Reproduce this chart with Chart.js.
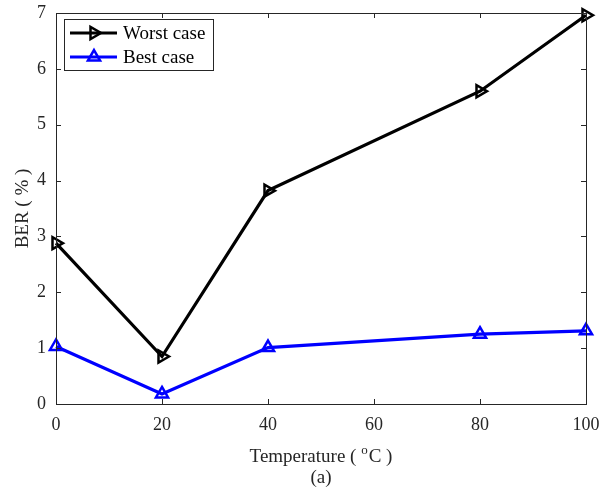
<!DOCTYPE html>
<html>
<head>
<meta charset="utf-8">
<script src="https://cdn.jsdelivr.net/npm/chart.js@4/dist/chart.umd.min.js"></script>
<style>
html,body{margin:0;padding:0;background:#fff;}
#wrap{width:611px;height:488px;position:relative;}
</style>
</head>
<body>
<div id="wrap"><canvas id="c" width="611" height="488"></canvas></div>
<script>
const temperatures = [0, 20, 40, 80, 100];
const worstCase = [2.88, 0.85, 3.82, 5.60, 6.96];
const bestCase = [1.03, 0.18, 1.01, 1.25, 1.31];
const xTickValues = [0, 20, 40, 60, 80, 100];
const yTickValues = [0, 1, 2, 3, 4, 5, 6, 7];
const seriesNames = ['Worst case', 'Best case'];
const xTitle = ['Temperature ( ', 'o', 'C )'];
const yTitle = 'BER ( % )';
const caption = '(a)';

const FONT = '"Liberation Serif", "Times New Roman", serif';
const AXIS_COLOR = '#262626';

const framePlugin = {
  id: 'frame',
  afterDraw(chart) {
    const ctx = chart.ctx;
    const a = chart.chartArea;
    const xs = chart.scales.x, ys = chart.scales.y;
    ctx.save();
    ctx.strokeStyle = AXIS_COLOR;
    ctx.lineWidth = 1;
    ctx.strokeRect(Math.round(a.left) + 0.5, Math.round(a.top) + 0.5,
                   Math.round(a.right - a.left), Math.round(a.bottom - a.top));
    const tl = 5;
    ctx.beginPath();
    xTickValues.forEach(v => {
      const px = Math.round(xs.getPixelForValue(v)) + 0.5;
      ctx.moveTo(px, a.bottom); ctx.lineTo(px, a.bottom - tl);
      ctx.moveTo(px, a.top); ctx.lineTo(px, a.top + tl);
    });
    yTickValues.forEach(v => {
      const py = Math.round(ys.getPixelForValue(v)) + 0.5;
      ctx.moveTo(a.left, py); ctx.lineTo(a.left + tl, py);
      ctx.moveTo(a.right, py); ctx.lineTo(a.right - tl, py);
    });
    ctx.stroke();

    // x title with superscript
    ctx.fillStyle = AXIS_COLOR;
    ctx.textBaseline = 'alphabetic';
    ctx.textAlign = 'left';
    const f1 = '19px ' + FONT, f2 = '13px ' + FONT;
    ctx.font = f1;
    const w1 = ctx.measureText(xTitle[0]).width;
    const w3 = ctx.measureText(xTitle[2]).width;
    ctx.font = f2;
    const w2 = ctx.measureText(xTitle[1]).width + 1;
    const total = w1 + w2 + w3;
    const cx = (a.left + a.right) / 2;
    const x0 = cx - total / 2;
    const base = 462;
    ctx.font = f1; ctx.fillText(xTitle[0], x0, base);
    ctx.font = f2; ctx.fillText(xTitle[1], x0 + w1, base - 8);
    ctx.font = f1; ctx.fillText(xTitle[2], x0 + w1 + w2, base);
    ctx.textAlign = 'center';
    ctx.fillText(caption, cx, 483);

    // y title
    ctx.save();
    ctx.translate(23, (a.top + a.bottom) / 2);
    ctx.rotate(-Math.PI / 2);
    ctx.textAlign = 'center';
    ctx.textBaseline = 'middle';
    ctx.font = '19px ' + FONT;
    ctx.fillText(yTitle, 0, 0);
    ctx.restore();

    // legend
    const lx = 64, ly = 19, lw = 149, lh = 51;
    ctx.fillStyle = '#fff';
    ctx.fillRect(lx, ly, lw, lh);
    ctx.strokeStyle = AXIS_COLOR;
    ctx.lineWidth = 1;
    ctx.strokeRect(lx + 0.5, ly + 0.5, lw, lh);
    chart.data.datasets.forEach((ds, i) => {
      const yy = 33 + i * 24;
      ctx.strokeStyle = ds.borderColor;
      ctx.lineWidth = 3;
      ctx.beginPath();
      ctx.moveTo(70, yy); ctx.lineTo(117, yy);
      ctx.stroke();
      ctx.fillStyle = 'rgba(0,0,0,0)';
      ctx.strokeStyle = ds.pointBorderColor;
      ctx.lineWidth = ds.pointBorderWidth;
      Chart.helpers.drawPoint(ctx, {
        pointStyle: ds.pointStyle, rotation: ds.pointRotation,
        radius: ds.pointRadius, borderWidth: ds.pointBorderWidth
      }, 94, yy);
      ctx.fillStyle = '#000';
      ctx.font = '19px ' + FONT;
      ctx.textAlign = 'left';
      ctx.textBaseline = 'middle';
      ctx.fillText(seriesNames[i], 123, yy + 1);
    });
    ctx.restore();
  }
};

const chart = new Chart(document.getElementById('c'), {
  type: 'line',
  data: {
    datasets: [
      {
        label: seriesNames[0],
        data: temperatures.map((t, i) => ({x: t, y: worstCase[i]})),
        borderColor: '#000000',
        backgroundColor: 'rgba(0,0,0,0)',
        pointBackgroundColor: 'rgba(0,0,0,0)',
        pointBorderColor: '#000000',
        borderWidth: 3.2,
        pointStyle: 'triangle',
        pointRotation: 90,
        pointRadius: 7,
        pointBorderWidth: 2.5,
        tension: 0,
        clip: false
      },
      {
        label: seriesNames[1],
        data: temperatures.map((t, i) => ({x: t, y: bestCase[i]})),
        borderColor: '#0000ff',
        backgroundColor: 'rgba(0,0,0,0)',
        pointBackgroundColor: 'rgba(0,0,0,0)',
        pointBorderColor: '#0000ff',
        borderWidth: 3.2,
        pointStyle: 'triangle',
        pointRotation: 0,
        pointRadius: 7,
        pointBorderWidth: 2.5,
        tension: 0,
        clip: false
      }
    ]
  },
  options: {
    responsive: false,
    animation: false,
    events: [],
    layout: {padding: {left: 0, top: 13, right: 25, bottom: 0}},
    plugins: {legend: {display: false}, tooltip: {enabled: false}, title: {display: false}},
    scales: {
      x: {
        type: 'linear', min: 0, max: 100,
        afterBuildTicks: s => { s.ticks = xTickValues.map(v => ({value: v})); },
        afterFit: s => { s.height = 84; s.paddingLeft = 0; s.paddingRight = 0; },
        grid: {display: false, drawTicks: false},
        border: {display: false},
        ticks: {color: AXIS_COLOR, font: {family: FONT, size: 18}, padding: 10, maxRotation: 0}
      },
      y: {
        type: 'linear', min: 0, max: 7,
        afterBuildTicks: s => { s.ticks = yTickValues.map(v => ({value: v})); },
        afterFit: s => { s.width = 56; s.paddingTop = 0; s.paddingBottom = 0; },
        grid: {display: false, drawTicks: false},
        border: {display: false},
        ticks: {color: AXIS_COLOR, font: {family: FONT, size: 18}, padding: 10}
      }
    }
  },
  plugins: [framePlugin]
});
</script>
</body>
</html>
